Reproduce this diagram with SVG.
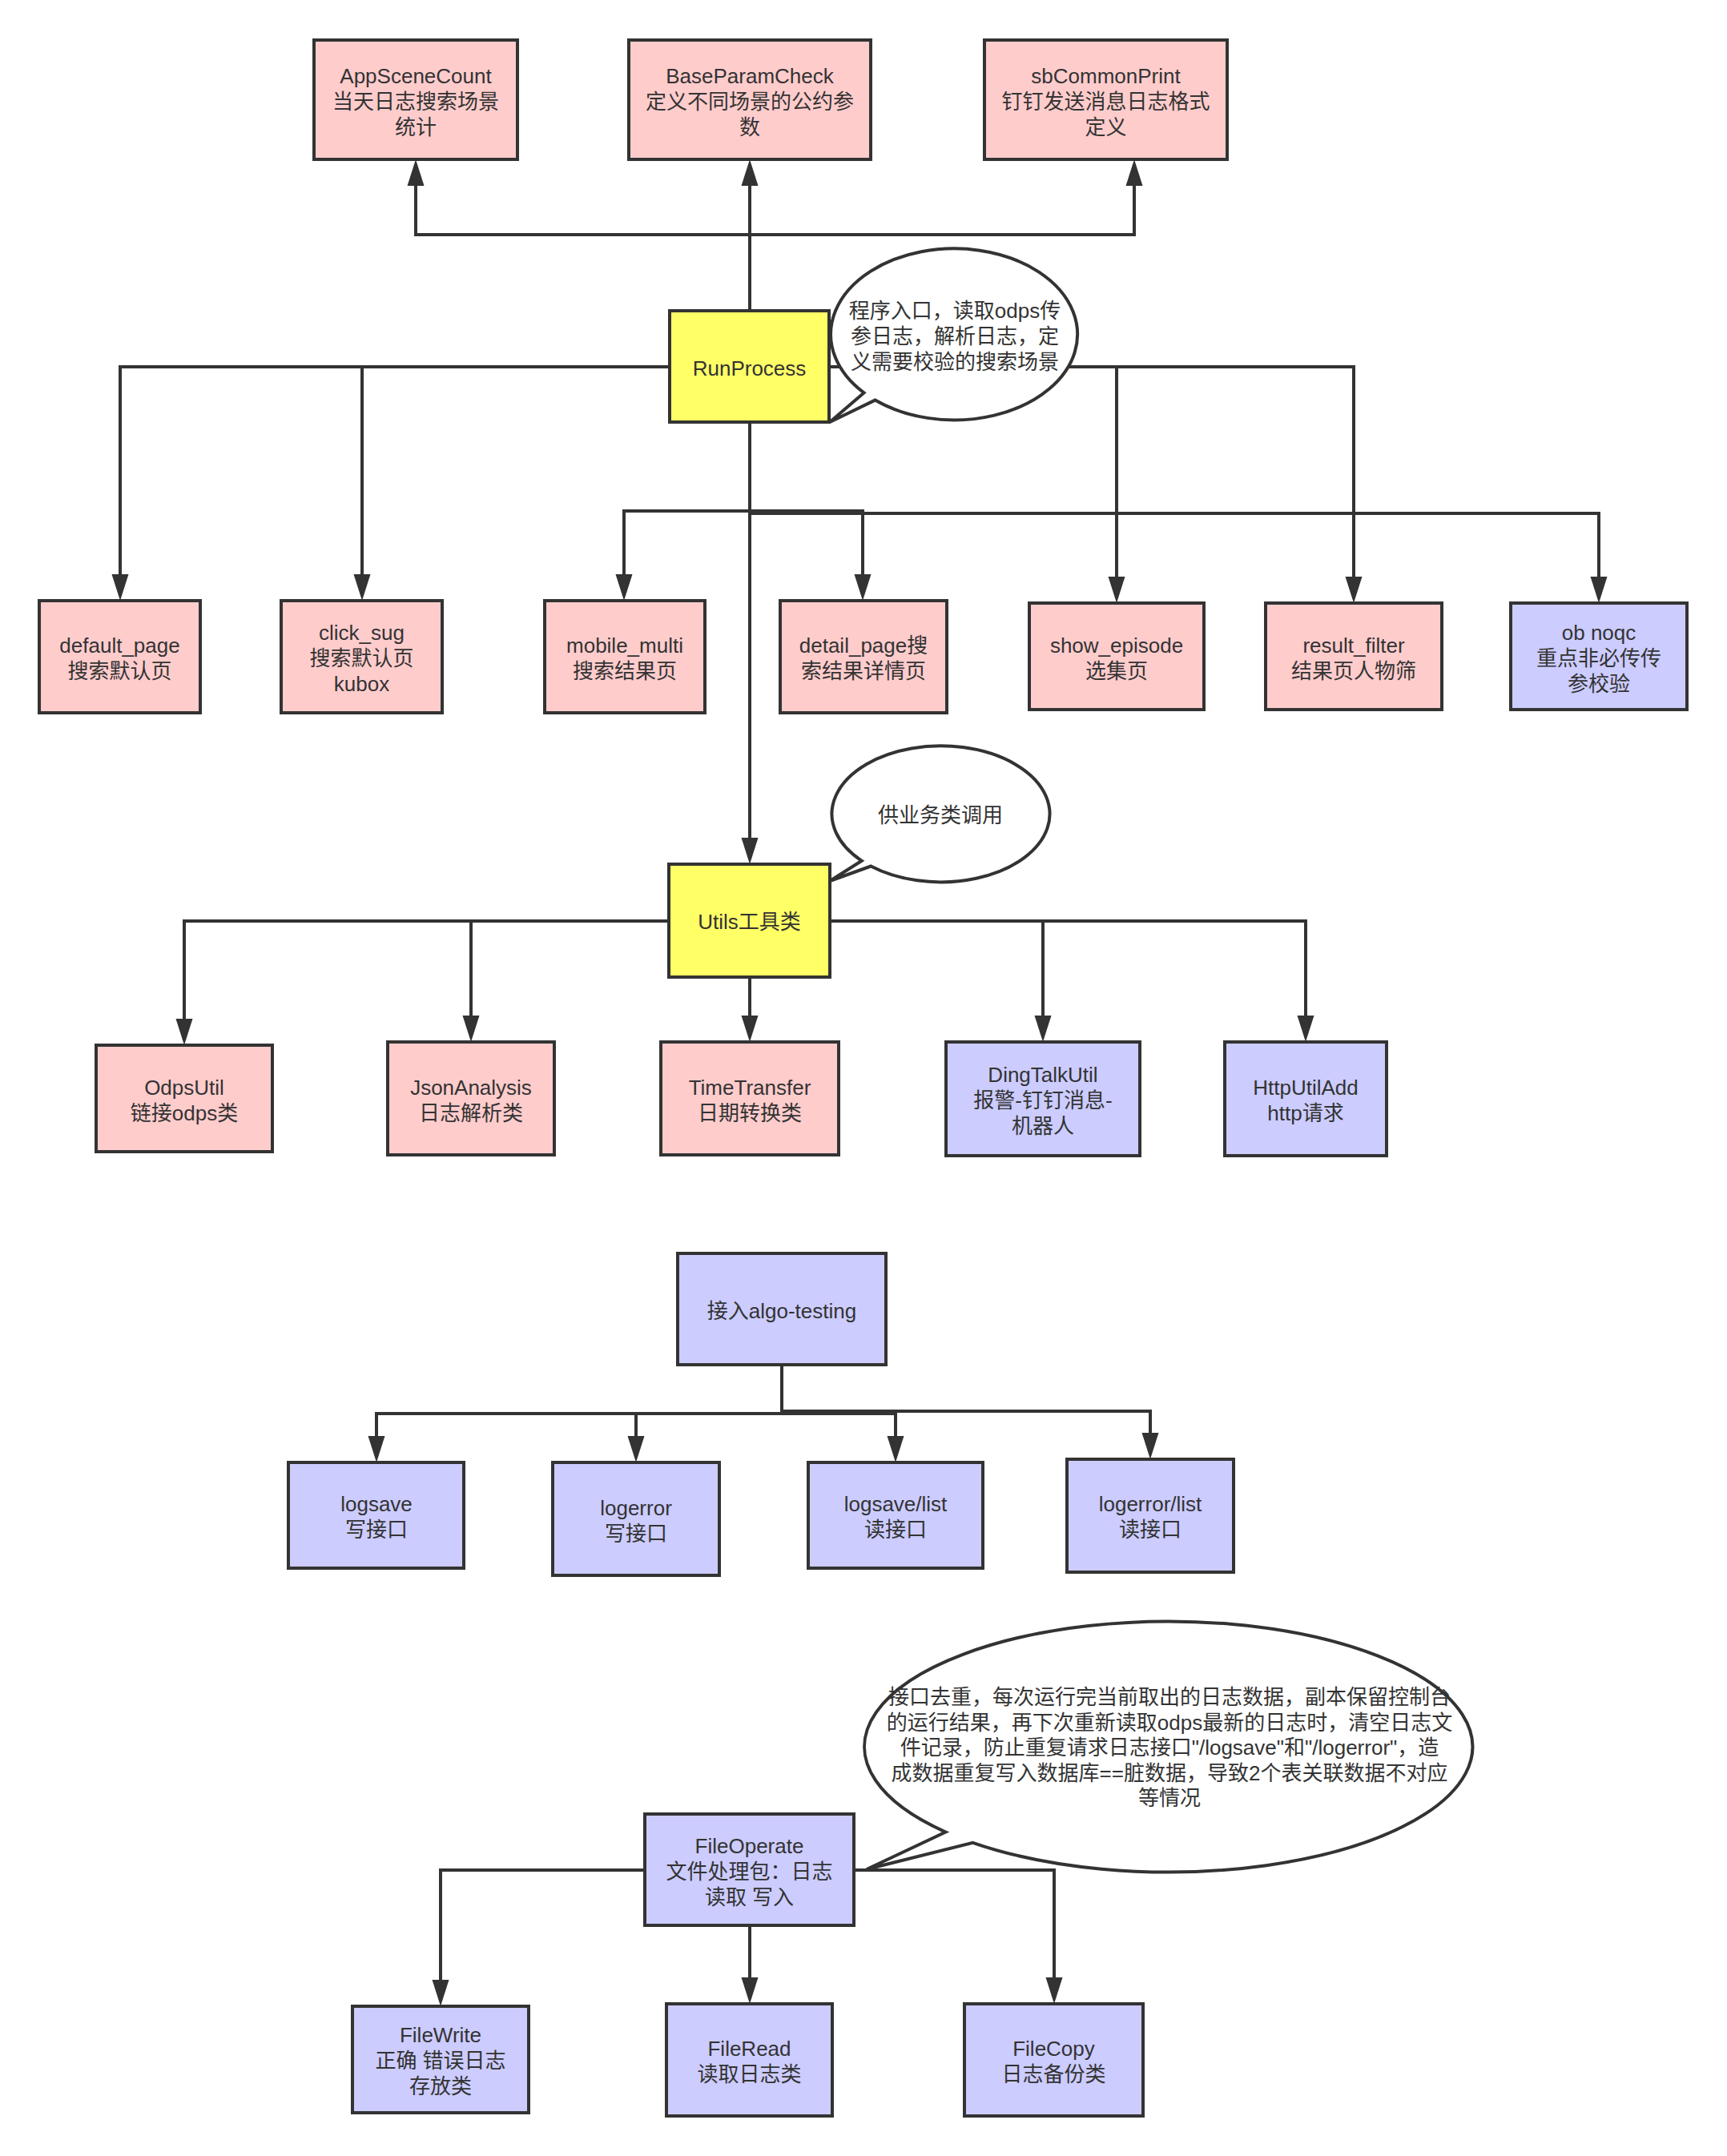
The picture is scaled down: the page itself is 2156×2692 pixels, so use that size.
<svg xmlns="http://www.w3.org/2000/svg" width="2156" height="2692" viewBox="0 0 2156 2692">
<style>
.n rect{stroke:#333333;stroke-width:4}
.pink{fill:#ffcccc}
.lav{fill:#ccccff}
.yel{fill:#ffff66}
text{font-family:"Liberation Sans","Noto Sans CJK SC",sans-serif;font-size:26px;fill:#333333;text-anchor:middle}
.c polyline{fill:none;stroke:#333333;stroke-width:4;marker-end:url(#arr)}
.b path{fill:#ffffff;stroke:#333333;stroke-width:4;stroke-linejoin:miter}
</style>
<defs>
<marker id="arr" markerUnits="userSpaceOnUse" markerWidth="34" markerHeight="24" viewBox="-23 -12 34 24" refX="0" refY="0" orient="auto" overflow="visible">
<path d="M10,0 L-23,-10.5 L-23,10.5 Z" fill="#333333"/>
</marker>
</defs>
<rect width="2156" height="2692" fill="#ffffff"/>
<g id="connectors" class="c">
<polyline points="936,388 936,293 519,293 519,209"/>
<polyline points="936,388 936,209"/>
<polyline points="936,388 936,293 1416,293 1416,209"/>
<polyline points="836,458 150,458 150,740"/>
<polyline points="836,458 452,458 452,740"/>
<polyline points="936,527 936,638 779,638 779,740"/>
<polyline points="936,527 936,638 1077,638 1077,740"/>
<polyline points="1035,458 1394,458 1394,743"/>
<polyline points="1035,458 1690,458 1690,743"/>
<polyline points="936,527 936,641 1996,641 1996,743"/>
<polyline points="936,527 936,1069"/>
<polyline points="835,1150 230,1150 230,1295"/>
<polyline points="835,1150 588,1150 588,1291"/>
<polyline points="936,1220 936,1291"/>
<polyline points="1036,1150 1302,1150 1302,1291"/>
<polyline points="1036,1150 1630,1150 1630,1291"/>
<polyline points="976,1704 976,1765 470,1765 470,1816"/>
<polyline points="976,1704 976,1765 794,1765 794,1816"/>
<polyline points="976,1704 976,1765 1118,1765 1118,1816"/>
<polyline points="976,1704 976,1762 1436,1762 1436,1812"/>
<polyline points="805,2335 550,2335 550,2495"/>
<polyline points="936,2404 936,2492"/>
<polyline points="1066,2335 1316,2335 1316,2492"/>
</g>

<g id="AppSceneCount" class="n"><rect class="pink" x="392" y="50" width="254" height="149"/>
<text x="519" y="104">AppSceneCount</text><text x="519" y="136">当天日志搜索场景</text><text x="519" y="168">统计</text></g>
<g id="BaseParamCheck" class="n"><rect class="pink" x="785" y="50" width="302" height="149"/>
<text x="936" y="104">BaseParamCheck</text><text x="936" y="136">定义不同场景的公约参</text><text x="936" y="168">数</text></g>
<g id="sbCommonPrint" class="n"><rect class="pink" x="1229" y="50" width="303" height="149"/>
<text x="1380.5" y="104">sbCommonPrint</text><text x="1380.5" y="136">钉钉发送消息日志格式</text><text x="1380.5" y="168">定义</text></g>

<g id="RunProcess" class="n"><rect class="yel" x="836" y="388" width="199" height="139"/>
<text x="935.5" y="469">RunProcess</text></g>

<g id="default_page" class="n"><rect class="pink" x="49" y="750" width="201" height="140"/>
<text x="149.5" y="815">default_page</text><text x="149.5" y="847">搜索默认页</text></g>
<g id="click_sug" class="n"><rect class="pink" x="351" y="750" width="201" height="140"/>
<text x="451.5" y="799">click_sug</text><text x="451.5" y="831">搜索默认页</text><text x="451.5" y="863">kubox</text></g>
<g id="mobile_multi" class="n"><rect class="pink" x="680" y="750" width="200" height="140"/>
<text x="780" y="815">mobile_multi</text><text x="780" y="847">搜索结果页</text></g>
<g id="detail_page" class="n"><rect class="pink" x="974" y="750" width="208" height="140"/>
<text x="1078" y="815">detail_page搜</text><text x="1078" y="847">索结果详情页</text></g>
<g id="show_episode" class="n"><rect class="pink" x="1285" y="753" width="218" height="133"/>
<text x="1394" y="815">show_episode</text><text x="1394" y="847">选集页</text></g>
<g id="result_filter" class="n"><rect class="pink" x="1580" y="753" width="220" height="133"/>
<text x="1690" y="815">result_filter</text><text x="1690" y="847">结果页人物筛</text></g>
<g id="ob_noqc" class="n"><rect class="lav" x="1886" y="753" width="220" height="133"/>
<text x="1996" y="799">ob noqc</text><text x="1996" y="831">重点非必传传</text><text x="1996" y="863">参校验</text></g>

<g id="Utils" class="n"><rect class="yel" x="835" y="1079" width="201" height="141"/>
<text x="935.5" y="1160">Utils工具类</text></g>

<g id="OdpsUtil" class="n"><rect class="pink" x="120" y="1305" width="220" height="133"/>
<text x="230" y="1367">OdpsUtil</text><text x="230" y="1399">链接odps类</text></g>
<g id="JsonAnalysis" class="n"><rect class="pink" x="484" y="1301" width="208" height="141"/>
<text x="588" y="1367">JsonAnalysis</text><text x="588" y="1399">日志解析类</text></g>
<g id="TimeTransfer" class="n"><rect class="pink" x="825" y="1301" width="222" height="141"/>
<text x="936" y="1367">TimeTransfer</text><text x="936" y="1399">日期转换类</text></g>
<g id="DingTalkUtil" class="n"><rect class="lav" x="1181" y="1301" width="242" height="142"/>
<text x="1302" y="1351">DingTalkUtil</text><text x="1302" y="1383">报警-钉钉消息-</text><text x="1302" y="1415">机器人</text></g>
<g id="HttpUtilAdd" class="n"><rect class="lav" x="1529" y="1301" width="202" height="142"/>
<text x="1630" y="1367">HttpUtilAdd</text><text x="1630" y="1399">http请求</text></g>

<g id="algo_testing" class="n"><rect class="lav" x="846" y="1565" width="260" height="139"/>
<text x="976" y="1646">接入algo-testing</text></g>
<g id="logsave" class="n"><rect class="lav" x="360" y="1826" width="219" height="132"/>
<text x="470" y="1887">logsave</text><text x="470" y="1919">写接口</text></g>
<g id="logerror" class="n"><rect class="lav" x="690" y="1826" width="208" height="141"/>
<text x="794" y="1892">logerror</text><text x="794" y="1924">写接口</text></g>
<g id="logsave_list" class="n"><rect class="lav" x="1009" y="1826" width="218" height="132"/>
<text x="1118" y="1887">logsave/list</text><text x="1118" y="1919">读接口</text></g>
<g id="logerror_list" class="n"><rect class="lav" x="1332" y="1822" width="208" height="141"/>
<text x="1436" y="1887">logerror/list</text><text x="1436" y="1919">读接口</text></g>

<g id="FileOperate" class="n"><rect class="lav" x="805" y="2265" width="261" height="139"/>
<text x="935.5" y="2314">FileOperate</text><text x="935.5" y="2346">文件处理包：日志</text><text x="935.5" y="2378">读取 写入</text></g>
<g id="FileWrite" class="n"><rect class="lav" x="440" y="2505" width="220" height="133"/>
<text x="550" y="2550">FileWrite</text><text x="550" y="2582">正确 错误日志</text><text x="550" y="2614">存放类</text></g>
<g id="FileRead" class="n"><rect class="lav" x="832" y="2502" width="207" height="140"/>
<text x="935.5" y="2567">FileRead</text><text x="935.5" y="2599">读取日志类</text></g>
<g id="FileCopy" class="n"><rect class="lav" x="1204" y="2502" width="223" height="140"/>
<text x="1315.5" y="2567">FileCopy</text><text x="1315.5" y="2599">日志备份类</text></g>

<g id="callout1" class="b">
<path d="M1078.5,490.4 L1036,527 L1092.5,499.6 A154 107 0 1 0 1078.5,490.4 Z"/>
<text x="1192" y="397">程序入口，读取odps传</text><text x="1192" y="429">参日志，解析日志，定</text><text x="1192" y="461">义需要校验的搜索场景</text></g>
<g id="callout2" class="b">
<path d="M1075.8,1074.8 L1036,1100 L1087.2,1081.5 A136 85 0 1 0 1075.8,1074.8 Z"/>
<text x="1174" y="1027">供业务类调用</text></g>
<g id="callout3" class="b">
<path d="M1180.6,2287.5 L1082,2334 L1214.5,2300.8 A379.6 156.5 0 1 0 1180.6,2287.5 Z"/>
<text x="1460" y="2128">接口去重，每次运行完当前取出的日志数据，副本保留控制台</text>
<text x="1460" y="2159.5">的运行结果，再下次重新读取odps最新的日志时，清空日志文</text>
<text x="1460" y="2191">件记录，防止重复请求日志接口"/logsave"和"/logerror"，造</text>
<text x="1460" y="2222.5">成数据重复写入数据库==脏数据，导致2个表关联数据不对应</text>
<text x="1460" y="2254">等情况</text></g>
</svg>
